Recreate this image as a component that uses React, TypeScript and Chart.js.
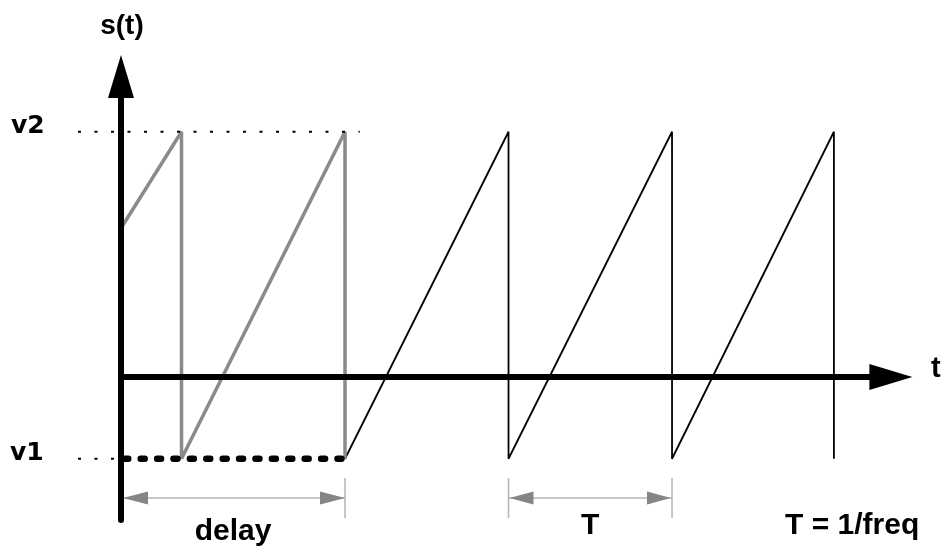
import React, { useEffect, useRef } from "react";
import { Chart, registerables } from "chart.js";

Chart.register(...registerables);

// ---- levels and timing (t in units of the period T, s in arbitrary units) ----
const V1 = -1;
const V2 = 3;
const DELAY = 1.37;
const PERIOD_START = 2.37;
const PERIOD_END = 3.37;

// waveform before the delay ends (gray)
const grayTimes = [0, 0.37, 0.37, 1.37, 1.37];
const grayValues = [1.82, 3, -1, 3, -1];

// waveform after the delay (black)
const blackTimes = [1.37, 2.37, 2.37, 3.37, 3.37, 4.36, 4.36];
const blackValues = [-1, 3, -1, 3, -1, 3, -1];

// axes extents
const T_AXIS_END = 4.84;
const S_AXIS_TOP = 3.94;
const S_AXIS_BOTTOM = -1.75;

// guide extents
const GUIDE_LEFT = -0.263;
const V2_GUIDE_RIGHT = 1.46;

// dimension annotations
const DIM_LEVEL = -1.48;
const DIM_TICK_TOP = -1.235;
const DIM_TICK_BOTTOM = -1.725;

// labels
const LABEL_SIGNAL = "s(t)";
const LABEL_V2 = "v2";
const LABEL_V1 = "v1";
const LABEL_TIME = "t";
const LABEL_DELAY = "delay";
const LABEL_PERIOD = "T";
const LABEL_FORMULA = "T = 1/freq";

// view window
const X_MIN = -0.74;
const X_MAX = 5.015;
const Y_MIN = -2.092;
const Y_MAX = 4.612;

const pts = (xs: number[], ys: number[]) => xs.map((x, i) => ({ x, y: ys[i] }));

const overlay = {
  id: "overlay",
  afterDatasetsDraw(chart: any) {
    const { ctx } = chart;
    const xs = chart.scales.x;
    const ys = chart.scales.y;
    const px = (v: number) => xs.getPixelForValue(v);
    const py = (v: number) => ys.getPixelForValue(v);

    const tri = (tx: number, ty: number, dx: number, dy: number, len: number, half: number, color: string) => {
      const bx = tx - dx * len;
      const by = ty - dy * len;
      ctx.save();
      ctx.fillStyle = color;
      ctx.beginPath();
      ctx.moveTo(tx, ty);
      ctx.lineTo(bx - dy * half, by + dx * half);
      ctx.lineTo(bx + dy * half, by - dx * half);
      ctx.closePath();
      ctx.fill();
      ctx.restore();
    };

    // axis arrowheads
    tri(px(0), py(S_AXIS_TOP), 0, -1, 43, 13, "#000");
    tri(px(T_AXIS_END), py(0), 1, 0, 43, 13, "#000");

    // dimension arrowheads
    const dimY = py(DIM_LEVEL);
    tri(px(0) + 2, dimY, -1, 0, 25, 6.5, "#858585");
    tri(px(DELAY), dimY, 1, 0, 25, 6.5, "#858585");
    tri(px(PERIOD_START) + 1, dimY, -1, 0, 24, 6.5, "#858585");
    tri(px(PERIOD_END) - 1, dimY, 1, 0, 24, 6.5, "#858585");

    // texts
    ctx.save();
    ctx.fillStyle = "#000";
    ctx.textBaseline = "alphabetic";

    ctx.font = "bold 28px 'Liberation Sans', Arial, sans-serif";
    ctx.textAlign = "center";
    ctx.fillText(LABEL_SIGNAL, px(0) + 1, 34);

    ctx.font = "bold 25px 'DejaVu Sans', sans-serif";
    ctx.textAlign = "left";
    ctx.fillText(LABEL_V2, 11, py(V2) + 1);
    ctx.fillText(LABEL_V1, 10, py(V1) + 1);

    ctx.font = "bold 29px 'Liberation Sans', Arial, sans-serif";
    ctx.fillText(LABEL_TIME, 931, py(0));

    ctx.font = "bold 30px 'Liberation Sans', Arial, sans-serif";
    ctx.textAlign = "center";
    ctx.fillText(LABEL_DELAY, px(DELAY / 2), 540);
    ctx.fillText(LABEL_PERIOD, px((PERIOD_START + PERIOD_END) / 2), 534);
    ctx.textAlign = "left";
    ctx.fillText(LABEL_FORMULA, 785, 534);
    ctx.restore();
  },
};

export default function App() {
  const ref = useRef<HTMLCanvasElement | null>(null);

  useEffect(() => {
    if (!ref.current) return;
    const base = {
      showLine: true,
      pointRadius: 0,
      pointHoverRadius: 0,
      fill: false,
      tension: 0,
      clip: false as any,
    };
    const chart = new Chart(ref.current, {
      type: "scatter",
      data: {
        datasets: [
          {
            ...base,
            label: "s axis",
            data: [{ x: 0, y: S_AXIS_BOTTOM }, { x: 0, y: S_AXIS_TOP - 0.5 }],
            borderColor: "#000",
            borderWidth: 6,
            borderCapStyle: "round",
            order: 1,
          },
          {
            ...base,
            label: "t axis",
            data: [{ x: 0, y: 0 }, { x: T_AXIS_END - 0.25, y: 0 }],
            borderColor: "#000",
            borderWidth: 6,
            order: 1,
          },
          {
            ...base,
            label: "v2 guide",
            data: [{ x: GUIDE_LEFT, y: V2 }, { x: V2_GUIDE_RIGHT, y: V2 }],
            borderColor: "#000",
            borderWidth: 2,
            borderDash: [3, 13.5],
            order: 2,
          },
          {
            ...base,
            label: "v1 guide",
            data: [{ x: GUIDE_LEFT, y: V1 }, { x: 0, y: V1 }],
            borderColor: "#000",
            borderWidth: 2,
            borderDash: [3, 13.5],
            order: 2,
          },
          {
            ...base,
            label: "delay level",
            data: [{ x: 0.02, y: V1 }, { x: DELAY, y: V1 }],
            borderColor: "#000",
            borderWidth: 6.5,
            borderDash: [4, 12.4],
            borderCapStyle: "round",
            order: 2,
          },
          {
            ...base,
            label: "before delay",
            data: pts(grayTimes, grayValues),
            borderColor: "#8a8a8a",
            borderWidth: 3.5,
            borderJoinStyle: "bevel",
            order: 3,
          },
          {
            ...base,
            label: "after delay",
            data: pts(blackTimes, blackValues),
            borderColor: "#000",
            borderWidth: 1.8,
            borderJoinStyle: "bevel",
            order: 3,
          },
          {
            ...base,
            label: "delay dim",
            data: [{ x: 0, y: DIM_LEVEL }, { x: DELAY, y: DIM_LEVEL }],
            borderColor: "#b4b4b4",
            borderWidth: 1.5,
            order: 4,
          },
          {
            ...base,
            label: "period dim",
            data: [{ x: PERIOD_START, y: DIM_LEVEL }, { x: PERIOD_END, y: DIM_LEVEL }],
            borderColor: "#b4b4b4",
            borderWidth: 1.5,
            order: 4,
          },
          ...[DELAY, PERIOD_START, PERIOD_END].map((t) => ({
            ...base,
            label: "tick " + t,
            data: [{ x: t, y: DIM_TICK_TOP }, { x: t, y: DIM_TICK_BOTTOM }],
            borderColor: "#b4b4b4",
            borderWidth: 1.5,
            order: 4,
          })),
        ] as any,
      },
      options: {
        responsive: false,
        animation: false,
        devicePixelRatio: 1,
        layout: { padding: 0 },
        plugins: { legend: { display: false }, tooltip: { enabled: false } },
        events: [],
        scales: {
          x: { type: "linear", display: false, min: X_MIN, max: X_MAX },
          y: { type: "linear", display: false, min: Y_MIN, max: Y_MAX },
        },
      },
      plugins: [overlay],
    });
    return () => chart.destroy();
  }, []);

  return (
    <div style={{ position: "absolute", left: 0, top: 0, width: 941, height: 548, background: "#fff" }}>
      <canvas ref={ref} width={941} height={548} style={{ display: "block" }} />
    </div>
  );
}
